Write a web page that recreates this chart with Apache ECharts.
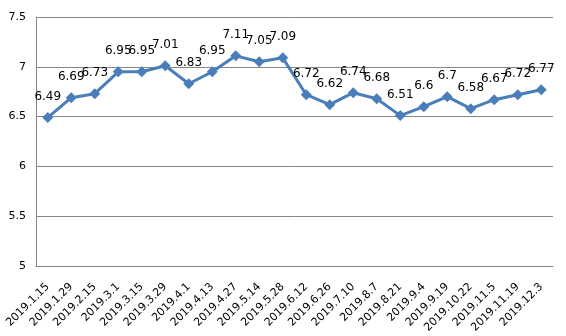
<!DOCTYPE html>
<html><head><meta charset="utf-8">
<script src="https://cdn.jsdelivr.net/npm/echarts@6/dist/echarts.min.js"></script>
<style>html,body{margin:0;padding:0;background:#fff}#c{width:566px;height:336px}</style>
</head><body><div id="c"></div>
<script>
var categories = ["2019.1.15","2019.1.29","2019.2.15","2019.3.1","2019.3.15","2019.3.29","2019.4.1","2019.4.13","2019.4.27","2019.5.14","2019.5.28","2019.6.12","2019.6.26","2019.7.10","2019.8.7","2019.8.21","2019.9.4","2019.9.19","2019.10.22","2019.11.5","2019.11.19","2019.12.3"];
var values = [6.49,6.69,6.73,6.95,6.95,7.01,6.83,6.95,7.11,7.05,7.09,6.72,6.62,6.74,6.68,6.51,6.6,6.7,6.58,6.67,6.72,6.77];
var chart = echarts.init(document.getElementById('c'));
chart.setOption({
  animation:false,
  grid:{left:36,right:13,top:17,bottom:70,containLabel:false},
  xAxis:{type:'category',data:categories,boundaryGap:true,
    axisLine:{lineStyle:{color:'#868686',width:1}},
    axisTick:{show:false},
    axisLabel:{rotate:45,interval:0,color:'#000',fontSize:11,fontFamily:'DejaVu Sans',margin:19}},
  yAxis:{type:'value',min:5,max:7.5,interval:0.5,
    axisLine:{show:true,lineStyle:{color:'#868686'}},
    axisTick:{show:false},
    splitLine:{lineStyle:{color:'#868686'}},
    axisLabel:{color:'#000',fontSize:11,fontFamily:'DejaVu Sans',margin:10}},
  series:[{type:'line',data:values,
    lineStyle:{color:'#4a7ebb',width:3},
    itemStyle:{color:'#4a7ebb'},
    symbol:'diamond',symbolSize:11,
    label:{show:true,position:'top',distance:9,color:'#000',fontSize:12,fontFamily:'DejaVu Sans'}}]
});
</script></body></html>
